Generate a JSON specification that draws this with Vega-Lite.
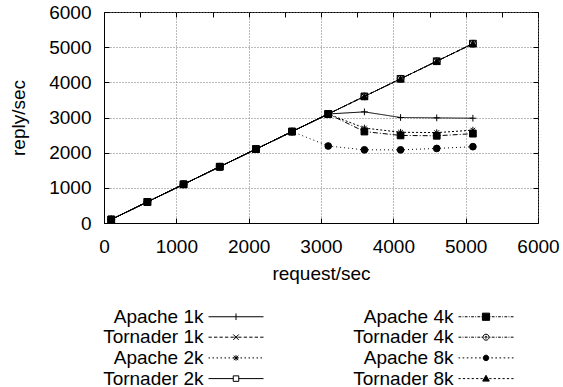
{
  "$schema": "https://vega.github.io/schema/vega-lite/v6.json",
  "autosize": {"type": "none"},
  "width": 434,
  "height": 211,
  "padding": {"left": 104, "top": 12, "right": 25, "bottom": 164},
  "background": "white",
  "config": {
    "font": "Liberation Sans",
    "view": {"stroke": "black", "strokeWidth": 1},
    "axis": {
      "labelFont": "Liberation Sans", "labelFontSize": 19, "labelColor": "black", "labelFlush": false,
      "titleFont": "Liberation Sans", "titleFontSize": 19, "titleFontWeight": "normal", "titleColor": "black",
      "domainColor": "black", "tickColor": "black", "tickSize": -5, "tickWidth": 1,
      "gridColor": "#777777", "gridDash": [1, 2], "gridOpacity": 1, "gridWidth": 1
    },
    "legend": {
      "labelFont": "Liberation Sans", "labelFontSize": 19, "labelColor": "black"
    }
  },
  "data": {"values": [
    {"series": "Tornader 1k", "x": 100, "y": 100}, {"series": "Tornader 1k", "x": 600, "y": 600}, {"series": "Tornader 1k", "x": 1100, "y": 1100}, {"series": "Tornader 1k", "x": 1600, "y": 1600}, {"series": "Tornader 1k", "x": 2100, "y": 2100}, {"series": "Tornader 1k", "x": 2600, "y": 2600}, {"series": "Tornader 1k", "x": 3100, "y": 3100}, {"series": "Tornader 1k", "x": 3600, "y": 3600}, {"series": "Tornader 1k", "x": 4100, "y": 4100}, {"series": "Tornader 1k", "x": 4600, "y": 4600}, {"series": "Tornader 1k", "x": 5100, "y": 5100},
    {"series": "Tornader 2k", "x": 100, "y": 100}, {"series": "Tornader 2k", "x": 600, "y": 600}, {"series": "Tornader 2k", "x": 1100, "y": 1100}, {"series": "Tornader 2k", "x": 1600, "y": 1600}, {"series": "Tornader 2k", "x": 2100, "y": 2100}, {"series": "Tornader 2k", "x": 2600, "y": 2600}, {"series": "Tornader 2k", "x": 3100, "y": 3100}, {"series": "Tornader 2k", "x": 3600, "y": 3600}, {"series": "Tornader 2k", "x": 4100, "y": 4100}, {"series": "Tornader 2k", "x": 4600, "y": 4600}, {"series": "Tornader 2k", "x": 5100, "y": 5100},
    {"series": "Tornader 4k", "x": 100, "y": 100}, {"series": "Tornader 4k", "x": 600, "y": 600}, {"series": "Tornader 4k", "x": 1100, "y": 1100}, {"series": "Tornader 4k", "x": 1600, "y": 1600}, {"series": "Tornader 4k", "x": 2100, "y": 2100}, {"series": "Tornader 4k", "x": 2600, "y": 2600}, {"series": "Tornader 4k", "x": 3100, "y": 3100}, {"series": "Tornader 4k", "x": 3600, "y": 3600}, {"series": "Tornader 4k", "x": 4100, "y": 4100}, {"series": "Tornader 4k", "x": 4600, "y": 4600}, {"series": "Tornader 4k", "x": 5100, "y": 5100},
    {"series": "Tornader 8k", "x": 100, "y": 100}, {"series": "Tornader 8k", "x": 600, "y": 600}, {"series": "Tornader 8k", "x": 1100, "y": 1100}, {"series": "Tornader 8k", "x": 1600, "y": 1600}, {"series": "Tornader 8k", "x": 2100, "y": 2100}, {"series": "Tornader 8k", "x": 2600, "y": 2600}, {"series": "Tornader 8k", "x": 3100, "y": 3100}, {"series": "Tornader 8k", "x": 3600, "y": 3600}, {"series": "Tornader 8k", "x": 4100, "y": 4100}, {"series": "Tornader 8k", "x": 4600, "y": 4600}, {"series": "Tornader 8k", "x": 5100, "y": 5100},
    {"series": "Apache 1k", "x": 100, "y": 100}, {"series": "Apache 1k", "x": 600, "y": 600}, {"series": "Apache 1k", "x": 1100, "y": 1100}, {"series": "Apache 1k", "x": 1600, "y": 1600}, {"series": "Apache 1k", "x": 2100, "y": 2100}, {"series": "Apache 1k", "x": 2600, "y": 2600}, {"series": "Apache 1k", "x": 3100, "y": 3100}, {"series": "Apache 1k", "x": 3600, "y": 3160}, {"series": "Apache 1k", "x": 4100, "y": 3000}, {"series": "Apache 1k", "x": 4600, "y": 2990}, {"series": "Apache 1k", "x": 5100, "y": 2980},
    {"series": "Apache 2k", "x": 100, "y": 100}, {"series": "Apache 2k", "x": 600, "y": 600}, {"series": "Apache 2k", "x": 1100, "y": 1100}, {"series": "Apache 2k", "x": 1600, "y": 1600}, {"series": "Apache 2k", "x": 2100, "y": 2100}, {"series": "Apache 2k", "x": 2600, "y": 2600}, {"series": "Apache 2k", "x": 3100, "y": 3100}, {"series": "Apache 2k", "x": 3600, "y": 2700}, {"series": "Apache 2k", "x": 4100, "y": 2580}, {"series": "Apache 2k", "x": 4600, "y": 2570}, {"series": "Apache 2k", "x": 5100, "y": 2640},
    {"series": "Apache 8k", "x": 100, "y": 100}, {"series": "Apache 8k", "x": 600, "y": 600}, {"series": "Apache 8k", "x": 1100, "y": 1100}, {"series": "Apache 8k", "x": 1600, "y": 1600}, {"series": "Apache 8k", "x": 2100, "y": 2100}, {"series": "Apache 8k", "x": 2600, "y": 2600}, {"series": "Apache 8k", "x": 3100, "y": 2190}, {"series": "Apache 8k", "x": 3600, "y": 2080}, {"series": "Apache 8k", "x": 4100, "y": 2080}, {"series": "Apache 8k", "x": 4600, "y": 2120}, {"series": "Apache 8k", "x": 5100, "y": 2170},
    {"series": "Apache 4k", "x": 100, "y": 100}, {"series": "Apache 4k", "x": 600, "y": 600}, {"series": "Apache 4k", "x": 1100, "y": 1100}, {"series": "Apache 4k", "x": 1600, "y": 1600}, {"series": "Apache 4k", "x": 2100, "y": 2100}, {"series": "Apache 4k", "x": 2600, "y": 2600}, {"series": "Apache 4k", "x": 3100, "y": 3100}, {"series": "Apache 4k", "x": 3600, "y": 2600}, {"series": "Apache 4k", "x": 4100, "y": 2490}, {"series": "Apache 4k", "x": 4600, "y": 2480}, {"series": "Apache 4k", "x": 5100, "y": 2540}
  ]},
  "layer": [
    {
      "mark": {"type": "line", "stroke": "black", "strokeWidth": 1},
      "encoding": {
        "x": {"field": "x", "type": "quantitative", "scale": {"domain": [0, 6000], "nice": false},
              "axis": {"values": [0, 1000, 2000, 3000, 4000, 5000, 6000], "format": "d", "title": "request/sec", "labelPadding": 19, "titlePadding": 8}},
        "y": {"field": "y", "type": "quantitative", "scale": {"domain": [0, 6000], "nice": false},
              "axis": {"values": [0, 1000, 2000, 3000, 4000, 5000, 6000], "format": "d", "title": "reply/sec", "labelPadding": 18, "titlePadding": 20}},
        "strokeDash": {"field": "series", "type": "nominal",
          "scale": {"domain": ["Apache 1k", "Tornader 1k", "Apache 2k", "Tornader 2k", "Apache 4k", "Tornader 4k", "Apache 8k", "Tornader 8k"],
                    "range": [[1, 0], [4, 2], [2, 2], [1, 0], [5, 2, 1, 2], [3, 2, 1, 2], [1, 3], [3, 3]]},
          "legend": null}
      }
    },
    {
      "mark": {"type": "point", "stroke": "black", "strokeWidth": 1, "size": 45, "opacity": 1},
      "encoding": {
        "x": {"field": "x", "type": "quantitative", "axis": {"labels": false, "title": null, "grid": false, "domain": false}},
        "y": {"field": "y", "type": "quantitative", "axis": {"labels": false, "title": null, "grid": false, "domain": false}},
        "fill": {"field": "series", "type": "nominal",
          "scale": {"domain": ["Apache 1k", "Tornader 1k", "Apache 2k", "Tornader 2k", "Apache 4k", "Tornader 4k", "Apache 8k", "Tornader 8k"],
                    "range": ["transparent", "transparent", "transparent", "transparent", "black", "transparent", "black", "black"]},
          "legend": null},
        "shape": {"field": "series", "type": "nominal",
          "scale": {"domain": ["Apache 1k", "Tornader 1k", "Apache 2k", "Tornader 2k", "Apache 4k", "Tornader 4k", "Apache 8k", "Tornader 8k"],
                    "range": ["M-1,0H1M0,-1V1", "M-1,-1L1,1M-1,1L1,-1", "M-1,0H1M0,-1V1M-0.7,-0.7L0.7,0.7M-0.7,0.7L0.7,-0.7", "square", "square", "circle", "circle", "triangle-up"]},
          "legend": null}
      }
    },
    {
      "transform": [{"filter": "false"}],
      "mark": {"type": "point", "stroke": "black", "strokeWidth": 1, "size": 100, "opacity": 1},
      "encoding": {
        "x": {"field": "x", "type": "quantitative", "axis": null},
        "y": {"field": "y", "type": "quantitative", "axis": null},
        "fill": {"field": "series", "type": "nominal",
          "scale": {"domain": ["Apache 1k", "Tornader 1k", "Apache 2k", "Tornader 2k", "Apache 4k", "Tornader 4k", "Apache 8k", "Tornader 8k"],
                    "range": ["transparent", "transparent", "transparent", "transparent", "black", "transparent", "black", "black"]},
          "legend": {
            "orient": "none", "legendX": 93, "legendY": 295, "columns": 2, "title": null,
            "padding": 0, "symbolSize": 100, "symbolStrokeWidth": 1, "symbolOffset": 29.5,
            "labelAlign": "right", "labelOffset": -42, "labelBaseline": "middle",
            "rowPadding": 0.7, "columnPadding": 87}},
        "shape": {"field": "series", "type": "nominal",
          "scale": {"domain": ["Apache 1k", "Tornader 1k", "Apache 2k", "Tornader 2k", "Apache 4k", "Tornader 4k", "Apache 8k", "Tornader 8k"],
                    "range": [
                      "M-5.5,0H5.5M0,-0.66V0.66",
                      "M-5.5,0H-4.84M-4.4,0H-3.74M-3.3,0H-2.64M-2.2,0H-1.54M-1.1,0H-0.44M-0.33,0H0.33M0.44,0H1.1M1.54,0H2.2M2.64,0H3.3M3.74,0H4.4M4.84,0H5.5M-0.55,-0.55L0.55,0.55M-0.55,0.55L0.55,-0.55",
                      "M-5.5,0H-5.2M-4.7,0H-4.4M-3.9,0H-3.6M-3.1,0H-2.8M-2.3,0H-2M-1.5,0H-1.2M-0.7,0H-0.4M0.1,0H0.4M0.9,0H1.2M1.7,0H2M2.5,0H2.8M3.3,0H3.6M4.1,0H4.4M4.9,0H5.2M-0.55,0H0.55M0,-0.55V0.55M-0.45,-0.45L0.45,0.45M-0.45,0.45L0.45,-0.45",
                      "M-5.5,0H-0.55M0.55,0H5.5M-0.55,-0.55H0.55V0.55H-0.55Z",
                      "M-5.5,0H-4.95M-4.68,0H-4.51M-4.24,0H-3.69M-3.41,0H-3.25M-2.97,0H-2.42M-2.15,0H-1.98M-1.71,0H-1.16M-0.88,0H-0.72M0.72,0H0.88M1.16,0H1.71M1.98,0H2.15M2.42,0H2.97M3.25,0H3.41M3.69,0H4.24M4.51,0H4.68M4.95,0H5.5M-0.72,-0.72H0.72V0.72H-0.72Z",
                      "M-5.5,0H-4.95M-4.68,0H-4.51M-4.24,0H-3.69M-3.41,0H-3.25M-2.97,0H-2.42M-2.15,0H-1.98M-1.71,0H-1.16M-0.88,0H-0.6M0.6,0H0.88M1.16,0H1.71M1.98,0H2.15M2.42,0H2.97M3.25,0H3.41M3.69,0H4.24M4.51,0H4.68M4.95,0H5.5M-0.6,0A0.6,0.6 0 1,0 0.6,0A0.6,0.6 0 1,0 -0.6,0ZM-0.2,0A0.2,0.2 0 1,0 0.2,0A0.2,0.2 0 1,0 -0.2,0Z",
                      "M-5.5,0H-5.17M-4.68,0H-4.35M-3.85,0H-3.52M-3.03,0H-2.7M-2.2,0H-1.87M-1.38,0H-1.05M1.05,0H1.38M1.87,0H2.2M2.7,0H3.03M3.52,0H3.85M4.35,0H4.68M5.17,0H5.5M-0.55,0A0.55,0.55 0 1,0 0.55,0A0.55,0.55 0 1,0 -0.55,0Z",
                      "M-5.5,0H-5.06M-4.62,0H-4.18M-3.74,0H-3.3M-2.86,0H-2.42M-1.98,0H-1.54M-1.1,0H-0.66M0.66,0H1.1M1.54,0H1.98M2.42,0H2.86M3.3,0H3.74M4.18,0H4.62M5.06,0H5.5M0,-0.66L0.66,0.5H-0.66Z"
                    ]},
          "legend": {
            "orient": "none", "legendX": 93, "legendY": 295, "columns": 2, "title": null,
            "padding": 0, "symbolSize": 100, "symbolStrokeWidth": 1, "symbolOffset": 29.5,
            "labelAlign": "right", "labelOffset": -42, "labelBaseline": "middle",
            "rowPadding": 0.7, "columnPadding": 87}}
      }
    }
  ],
  "resolve": {
    "axis": {"x": "independent", "y": "independent"},
    "scale": {"shape": "independent", "fill": "independent", "strokeDash": "independent"},
    "legend": {"shape": "independent", "fill": "independent", "strokeDash": "independent"}
  }
}
